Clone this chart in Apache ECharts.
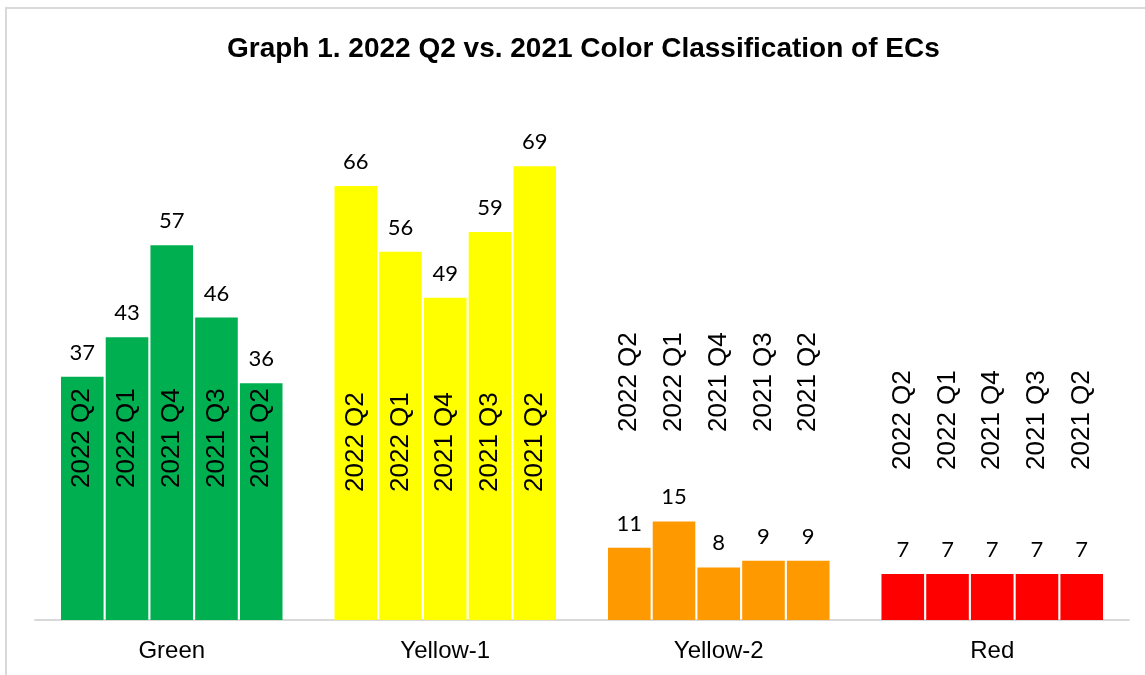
<!DOCTYPE html>
<html>
<head>
<meta charset="utf-8">
<script src="https://cdn.jsdelivr.net/npm/echarts@6/dist/echarts.min.js"></script>
<style>
html,body{margin:0;padding:0;background:#fff;overflow:hidden;}
#frame{position:absolute;left:5px;top:7px;width:1200px;height:700px;border:2px solid #d9d9d9;box-sizing:border-box;}
#chart{position:absolute;left:0;top:0;width:1145px;height:675px;}
</style>
</head>
<body>
<div id="frame"></div>
<div id="chart"></div>
<script>
const categories = ['Green', 'Yellow-1', 'Yellow-2', 'Red'];
const seriesNames = ['2022 Q2', '2022 Q1', '2021 Q4', '2021 Q3', '2021 Q2'];
const v2022Q2 = [37, 66, 11, 7];
const v2022Q1 = [43, 56, 15, 7];
const v2021Q4 = [57, 49, 8, 7];
const v2021Q3 = [46, 59, 9, 7];
const v2021Q2 = [36, 69, 9, 7];
const seriesValues = [v2022Q2, v2022Q1, v2021Q4, v2021Q3, v2021Q2];

const catColors = ['#00B050', '#FFFF00', '#FF9900', '#FF0000'];
const nameDistance = [132, 128, 188, 150];

const series = [];
seriesValues.forEach((vals, si) => {
  const stackId = 's' + si;
  series.push({
    name: seriesNames[si],
    type: 'bar',
    stack: stackId,
    barGap: '5%',
    barCategoryGap: '19%',
    data: vals.map((v, ci) => ({
      value: v,
      itemStyle: { color: catColors[ci] },
      label: {
        show: true,
        position: 'insideBottom',
        distance: nameDistance[ci],
        rotate: 90,
        align: 'left',
        verticalAlign: 'middle',
        formatter: seriesNames[si],
        color: '#000',
        fontFamily: 'Liberation Sans, Arial, sans-serif',
        fontSize: 26
      }
    }))
  });
  series.push({
    name: seriesNames[si] + ' value',
    type: 'bar',
    stack: stackId,
    data: vals.map(() => 0),
    itemStyle: { color: 'transparent' },
    label: {
      show: true,
      position: 'top',
      distance: 13,
      color: '#000',
      fontFamily: 'Lato, Open Sans, sans-serif',
      fontSize: 22,
      formatter: p => String(vals[p.dataIndex])
    }
  });
});

const chart = echarts.init(document.getElementById('chart'), null, { renderer: 'canvas' });
chart.setOption({
  animation: false,
  backgroundColor: 'transparent',
  title: {
    text: 'Graph 1. 2022 Q2 vs. 2021 Color Classification of ECs',
    left: 222,
    top: 30,
    textStyle: {
      fontFamily: 'Liberation Sans, Arial, sans-serif',
      fontWeight: 'bold',
      fontSize: 28,
      color: '#000'
    }
  },
  grid: { left: 35, right: 16, top: 94, bottom: 55, containLabel: false },
  xAxis: {
    type: 'category',
    data: categories,
    axisLine: { lineStyle: { color: '#d9d9d9', width: 2 } },
    axisTick: { show: false },
    axisLabel: {
      color: '#000',
      fontFamily: 'Liberation Sans, Arial, sans-serif',
      fontSize: 24,
      margin: 19
    }
  },
  yAxis: {
    type: 'value',
    min: 0,
    max: 80,
    show: false,
    splitLine: { show: false }
  },
  series: series
});
</script>
</body>
</html>
